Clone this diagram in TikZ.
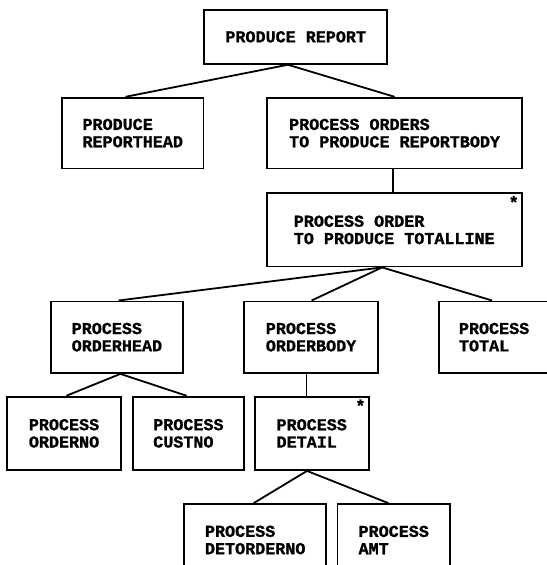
\documentclass[tikz,border=0pt]{standalone}
\usepackage{fontspec}
\setmonofont{Liberation Mono}[BoldFeatures={FakeBold=1.2}]
\usetikzlibrary{calc}
\tikzset{
  box/.style={draw, line width=1.8bp, align=left, inner sep=0pt,
    font=\ttfamily\bfseries\fontsize{16.8}{17.4}\selectfont},
  link/.style={line width=1.8bp},
  star/.style={anchor=north east, inner sep=0pt,
    font=\ttfamily\bfseries\fontsize{17}{17}\selectfont}
}
\begin{document}
\begin{tikzpicture}[x=1bp,y=-1bp]
\useasboundingbox (0,0) rectangle (547,565);
\clip (0,0) rectangle (547,565);
% level 0
\node[box, minimum width=183bp, minimum height=54bp] (pr) at (295.7,36.85) {PRODUCE REPORT};
% level 1
\node[box, minimum width=141.3bp, minimum height=70.8bp] (prh) at (132.75,133.1) {PRODUCE\\REPORTHEAD};
\node[box, minimum width=255.4bp, minimum height=70.8bp] (po) at (394.6,133.1) {PROCESS ORDERS\\TO PRODUCE REPORTBODY};
% level 2
\node[box, minimum width=254.7bp, minimum height=73.2bp] (pot) at (394.25,229.9) {PROCESS ORDER\\TO PRODUCE TOTALLINE};
\node[star] (potstar) at ([xshift=-3.5bp,yshift=-3.5bp]pot.north east) {*};
% level 3
\node[box, minimum width=132.6bp, minimum height=71.6bp] (oh) at (116.9,337.2) {PROCESS\\ORDERHEAD};
\node[box, minimum width=133.7bp, minimum height=71.6bp] (ob) at (311.05,337.2) {PROCESS\\ORDERBODY};
\node[box, minimum width=111bp, minimum height=71.6bp] (pt) at (494.1,337.2) {PROCESS\\TOTAL};
% level 4
\node[box, minimum width=114.1bp, minimum height=73.3bp] (on) at (64.05,433.35) {PROCESS\\ORDERNO};
\node[box, minimum width=111.6bp, minimum height=73.3bp] (cn) at (188.4,433.35) {PROCESS\\CUSTNO};
\node[box, minimum width=114.1bp, minimum height=73.3bp] (pd) at (311.75,433.35) {PROCESS\\DETAIL};
\node[star] (pdstar) at ([xshift=-4bp,yshift=-3.5bp]pd.north east) {*};
% level 5
\node[box, minimum width=142bp, minimum height=72bp] (don) at (255.2,540) {PROCESS\\DETORDERNO};
\node[box, minimum width=112.7bp, minimum height=72bp] (amt) at (393.75,540) {PROCESS\\AMT};
% connectors
\draw[link] ([xshift=-7.8bp]pr.south) -- ([xshift=-7.15bp]prh.north);
\draw[link] ([xshift=-7.8bp]pr.south) -- (po.north);
\draw[link] ([xshift=-2bp]po.south) -- ([xshift=-2bp]po.south |- pot.north);
\draw[link] ([xshift=-12.15bp]pot.south) -- ([xshift=1.7bp]oh.north);
\draw[link] ([xshift=-12.15bp]pot.south) -- ([xshift=0.55bp]ob.north);
\draw[link] ([xshift=-12.15bp]pot.south) -- ([xshift=-2.1bp]pt.north);
\draw[link] ([xshift=3.5bp]oh.south) -- ([xshift=2.25bp]on.north);
\draw[link] ([xshift=3.5bp]oh.south) -- ([xshift=-1.7bp]cn.north);
\draw[link] ([xshift=-4.65bp]ob.south) -- ([xshift=-4.65bp]ob.south |- pd.north);
\draw[link] ([xshift=-4.75bp]pd.south) -- ([xshift=-1.5bp]don.north);
\draw[link] ([xshift=-4.75bp]pd.south) -- ([xshift=-5.45bp]amt.north);
\end{tikzpicture}
\end{document}
